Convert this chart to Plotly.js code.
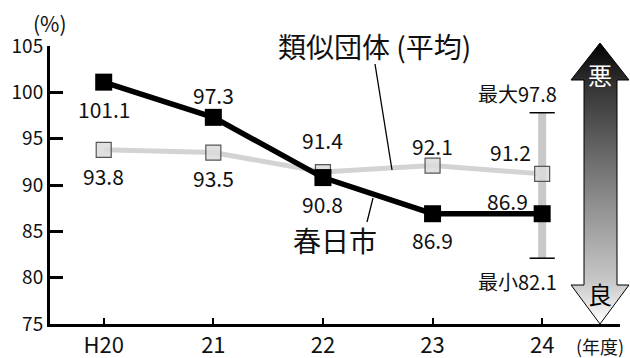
<!DOCTYPE html>
<html>
<head>
<meta charset="utf-8">
<script src="https://cdn.plot.ly/plotly-3.0.1.min.js"></script>
<style>html,body{margin:0;padding:0;background:#fff;}#chart{width:630px;height:358px;}</style>
</head>
<body>
<div id="chart"></div>
<script>
// ---- data ----
const categories = ['H20', '21', '22', '23', '24'];
const kasuga = [101.1, 97.3, 90.8, 86.9, 86.9];
const similar = [93.8, 93.5, 91.4, 92.1, 91.2];
const rangeCategory = ['24', '24'];
const rangeValues = [82.1, 97.8];
const rangeLabels = ['最小82.1', '最大97.8'];
const yTicks = [75, 80, 85, 90, 95, 100, 105];

// ---- label offsets (pixels), kept separate from data ----
const kasugaOffsets = [[0, -27], [0, 22], [0, -26], [0, -26], [-35, 13]];
const similarOffsets = [[0, -26], [0, -25], [0, 32], [0, 20], [-32, 22]];
const rangeOffsets = [[-25, -23], [-25, 19]];

const FONT = '"Noto Sans CJK JP", "Noto Sans", sans-serif';

const W = 630, H = 358;
// main plot area in pixels
const PL = 50, PR = 620, PT = 46, PB = 324;

const traces = [
  {
    x: rangeCategory, y: rangeValues, type: 'scatter', mode: 'lines+markers',
    line: {color: '#c8c8c8', width: 8},
    marker: {symbol: 'line-ew', size: 18, line: {color: '#000', width: 1.5}},
    hoverinfo: 'skip', cliponaxis: false
  },
  {
    x: categories, y: similar, type: 'scatter', mode: 'lines+markers',
    line: {color: '#d3d3d3', width: 5},
    marker: {symbol: 'square', size: 15, color: 'rgba(218,218,218,0.85)', line: {color: '#555', width: 1.2}},
    cliponaxis: false
  },
  {
    x: categories, y: kasuga, type: 'scatter', mode: 'lines+markers',
    line: {color: '#000', width: 5.5},
    marker: {symbol: 'square', size: 17, color: '#000'},
    cliponaxis: false
  },
  {
    // decorative double arrow (pixel coordinates on hidden overlay axes)
    x: [600, 629, 617, 617, 629, 600, 571, 584, 584, 571, 600],
    y: [43, 80, 80, 285, 285, 324, 285, 285, 80, 80, 43],
    xaxis: 'x2', yaxis: 'y2', type: 'scatter', mode: 'lines',
    fill: 'toself',
    fillgradient: {type: 'vertical', start: 43, stop: 324,
      colorscale: [[0, '#000000'], [0.15, '#333333'], [0.55, '#8a8a8a'], [0.85, '#c8c8c8'], [1, '#ffffff']]},
    line: {color: '#000', width: 1},
    hoverinfo: 'skip'
  }
];

const annotations = [];
categories.forEach((c, i) => {
  annotations.push({x: i, y: kasuga[i], xref: 'x', yref: 'y', text: kasuga[i].toFixed(1),
    showarrow: false, xshift: kasugaOffsets[i][0], yshift: kasugaOffsets[i][1],
    font: {family: FONT, size: 21, color: '#111'}});
  annotations.push({x: i, y: similar[i], xref: 'x', yref: 'y', text: similar[i].toFixed(1),
    showarrow: false, xshift: similarOffsets[i][0], yshift: similarOffsets[i][1],
    font: {family: FONT, size: 21, color: '#111'}});
});
rangeValues.forEach((v, i) => {
  annotations.push({x: categories.indexOf(rangeCategory[i]), y: v, xref: 'x', yref: 'y', text: rangeLabels[i],
    showarrow: false, xshift: rangeOffsets[i][0], yshift: rangeOffsets[i][1],
    font: {family: FONT, size: 20, color: '#111'}});
});
annotations.push(
  {x: 50, y: 23, xref: 'x2', yref: 'y2', text: '(%)', showarrow: false, font: {family: FONT, size: 21, color: '#111'}},
  {x: 600, y: 346, xref: 'x2', yref: 'y2', text: '(年度)', showarrow: false, font: {family: FONT, size: 18, color: '#111'}},
  {x: 374, y: 46, xref: 'x2', yref: 'y2', text: '類似団体 (平均)', showarrow: false, font: {family: FONT, size: 28, color: '#111'}},
  {x: 335, y: 240, xref: 'x2', yref: 'y2', text: '春日市', showarrow: false, font: {family: FONT, size: 28, color: '#111'}},
  {x: 600, y: 74, xref: 'x2', yref: 'y2', text: '悪', showarrow: false, font: {family: FONT, size: 24, color: '#fff'}},
  {x: 600, y: 293, xref: 'x2', yref: 'y2', text: '良', showarrow: false, font: {family: FONT, size: 24, color: '#000'}}
);

const shapes = [
  {type: 'line', xref: 'x2', yref: 'y2', x0: 375, y0: 64, x1: 392, y1: 170, line: {color: '#000', width: 1.3}},
  {type: 'line', xref: 'x2', yref: 'y2', x0: 367, y0: 222, x1: 373, y1: 198, line: {color: '#000', width: 1.3}}
];

const layout = {
  width: W, height: H,
  margin: {l: 0, r: 0, t: 0, b: 0, pad: 0},
  paper_bgcolor: '#fff', plot_bgcolor: 'rgba(0,0,0,0)',
  showlegend: false,
  font: {family: FONT, color: '#111'},
  xaxis: {
    type: 'category', categoryorder: 'array', categoryarray: categories,
    domain: [PL / W, PR / W], range: [-0.49, 4.71], automargin: false,
    showline: true, linecolor: '#000', linewidth: 3, showgrid: false, zeroline: false,
    ticks: 'inside', ticklen: 6, tickwidth: 2, tickcolor: '#000',
    tickfont: {family: FONT, size: 22, color: '#111'}, fixedrange: true
  },
  yaxis: {
    domain: [1 - PB / H, 1 - PT / H], range: [75, 105], tickvals: yTicks, automargin: false,
    showline: true, linecolor: '#000', linewidth: 3, showgrid: false, zeroline: false,
    ticks: 'inside', ticklen: 13, tickwidth: 3, tickcolor: '#000',
    tickfont: {family: FONT, size: 19, color: '#111'}, fixedrange: true
  },
  xaxis2: {domain: [0, 1], range: [0, W], anchor: 'y2', visible: false, fixedrange: true, automargin: false},
  yaxis2: {domain: [0, 1], range: [H, 0], anchor: 'x2', visible: false, fixedrange: true, automargin: false},
  annotations: annotations,
  shapes: shapes
};

Plotly.newPlot('chart', traces, layout, {displayModeBar: false, staticPlot: true});
</script>
</body>
</html>
